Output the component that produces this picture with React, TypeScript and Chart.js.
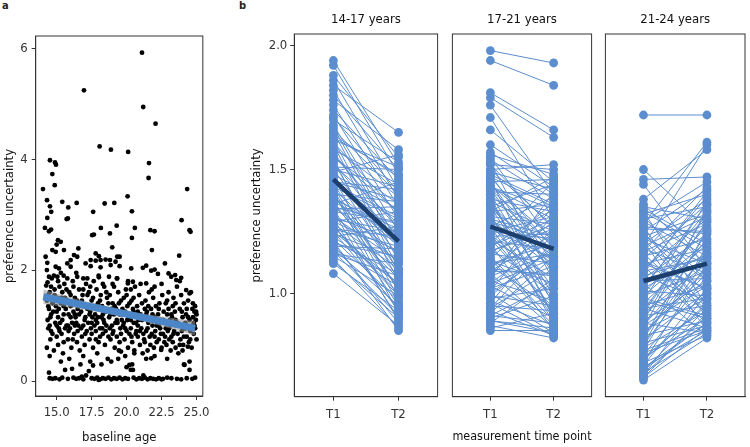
import React, { useEffect, useRef } from "react";
import { Chart, registerables } from "chart.js";
Chart.register(...registerables);

const FONT = "'DejaVu Sans Condensed', 'Liberation Sans Narrow', 'Roboto Condensed', sans-serif";
const TICK_TXT = "#333333";
const TITLE_TXT = "#111111";
const AXIS = "#333333";
const FIT_BLUE = "#4a86c8";
const PAIR_BLUE = "#5b8dcf";
const MEAN_BLUE = "#1c3f6e";

// ---------- panel a ----------
const ageTicks = [15, 17.5, 20, 22.5, 25];
const uncertaintyTicksA = [0, 2, 4, 6];

const scatterUpper: number[][] = [
  [21.1, 5.92], [16.95, 5.24], [21.19, 4.94], [22.07, 4.64], [18.07, 4.23], [18.88, 4.17], [20.11, 4.13],
  [14.52, 3.98], [14.88, 3.94], [14.95, 3.9], [21.6, 3.93], [14.69, 3.73], [21.57, 3.66], [14.86, 3.53],
  [14.02, 3.46], [24.33, 3.46], [20.07, 3.33], [14.31, 3.26], [15.4, 3.23], [16.43, 3.21], [18.43, 3.2],
  [19.12, 3.21], [14.52, 3.15], [15.83, 3.13], [14.61, 3.05], [17.61, 3.05], [20.38, 3.06], [14.33, 2.94],
  [15.71, 2.92], [15.8, 2.93], [23.93, 2.9], [14.16, 2.76], [18.16, 2.76], [19.29, 2.8], [20.59, 2.76],
  [14.6, 2.73], [21.7, 2.72], [24.5, 2.72], [24.57, 2.69], [22.0, 2.7], [20.38, 2.58], [21.81, 2.36],
  [23.76, 2.26], [19.5, 2.24], [22.74, 2.12], [20.33, 2.03], [21.16, 2.04], [21.4, 2.08], [21.76, 1.99],
  [22.0, 2.01], [22.24, 1.93], [23.0, 1.94], [23.47, 1.91], [23.9, 1.86], [19.5, 2.07], [14.45, 2.7],
  [18.81, 2.66], [17.54, 2.63], [17.66, 2.64], [15.09, 2.54], [15.29, 2.51], [15.0, 2.46], [14.69, 2.36],
  [14.93, 2.33], [15.52, 2.36], [18.97, 2.41], [16.55, 2.39], [17.79, 2.3], [18.02, 2.25], [14.21, 2.24],
  [14.33, 2.13], [16.24, 2.27], [16.47, 2.24], [16.0, 2.18], [15.76, 2.12], [17.07, 2.12], [17.43, 2.18],
  [17.79, 2.17], [18.14, 2.18], [18.5, 2.19], [18.81, 2.18], [19.21, 2.15], [19.33, 2.24], [14.93, 2.06],
  [15.16, 2.03], [16.0, 2.06], [17.43, 2.07], [18.14, 2.05], [18.86, 2.09], [14.45, 1.88], [15.05, 1.88],
  [15.76, 1.85], [16.47, 1.88], [17.19, 1.85], [18.02, 1.87], [18.74, 1.88], [19.33, 1.85],
  [20.09, 1.76], [20.45, 1.79], [21.4, 1.76], [22.0, 1.7], [23.19, 1.88], [23.55, 1.82], [24.26, 1.64],
  [24.5, 1.58], [24.74, 1.4], [24.97, 1.25],
];

const scatterMain: number[][] = [
  [14.25, 1.72], [14.3, 1.45], [14.35, 1.1], [14.4, 0.95], [14.45, 1.3], [14.5, 1.6], [14.55, 0.75], [14.6, 1.2],
  [14.65, 1.85], [14.3, 0.6], [14.5, 1.0], [14.7, 1.4], [14.4, 1.55], [14.6, 0.9], [14.35, 1.78],
  [14.75, 1.25], [14.8, 0.55], [14.85, 1.65], [14.9, 1.05], [14.95, 1.35], [15.0, 0.8], [15.05, 1.5], [15.1, 1.15],
  [15.15, 0.95], [15.2, 1.7], [14.8, 1.9], [15.0, 1.0], [15.1, 0.65], [14.9, 1.45], [15.15, 1.3],
  [15.25, 1.05], [15.3, 1.4], [15.35, 0.85], [15.4, 1.6], [15.45, 0.5], [15.5, 1.2], [15.55, 1.75], [15.6, 0.95],
  [15.65, 1.3], [15.3, 1.95], [15.5, 0.7], [15.6, 1.5], [15.4, 1.1], [15.7, 1.0],
  [15.75, 1.45], [15.8, 0.75], [15.85, 1.2], [15.9, 1.6], [15.95, 0.95], [16.0, 1.35], [16.05, 0.6], [16.1, 1.05],
  [16.15, 1.8], [15.8, 1.0], [16.0, 1.55], [16.2, 1.25], [15.9, 0.4], [16.1, 1.4],
  [16.25, 0.85], [16.3, 1.5], [16.35, 1.15], [16.4, 1.95], [16.45, 0.7], [16.5, 1.3], [16.55, 1.0], [16.6, 1.65],
  [16.65, 0.55], [16.3, 1.2], [16.5, 0.9], [16.7, 1.4], [16.4, 1.05],
  [16.75, 1.25], [16.8, 0.8], [16.85, 1.55], [16.9, 1.0], [16.95, 1.35], [17.0, 0.65], [17.05, 1.15], [17.1, 1.75],
  [17.15, 0.9], [16.8, 1.45], [17.0, 1.1], [17.2, 1.3], [16.9, 0.45],
  [17.25, 1.05], [17.3, 1.6], [17.35, 0.75], [17.4, 1.25], [17.45, 0.95], [17.5, 1.45], [17.55, 1.15], [17.6, 0.6],
  [17.65, 1.8], [17.3, 1.35], [17.5, 0.85], [17.7, 1.0], [17.4, 0.35], [17.6, 1.5],
  [17.75, 1.2], [17.8, 0.9], [17.85, 1.65], [17.9, 1.05], [17.95, 1.4], [18.0, 0.7], [18.05, 1.3], [18.1, 0.95],
  [18.15, 1.55], [17.8, 1.1], [18.0, 1.9], [18.2, 1.15], [17.9, 0.5], [18.1, 0.8],
  [18.25, 1.35], [18.3, 0.85], [18.35, 1.1], [18.4, 1.7], [18.45, 0.65], [18.5, 1.25], [18.55, 1.0], [18.6, 1.5],
  [18.65, 0.4], [18.3, 1.2], [18.5, 0.9], [18.7, 1.4], [18.4, 1.05],
  [18.75, 1.15], [18.8, 1.55], [18.85, 0.75], [18.9, 1.3], [18.95, 1.0], [19.0, 1.75], [19.05, 0.9], [19.1, 1.2],
  [19.15, 0.6], [18.8, 0.95], [19.0, 1.4], [19.2, 1.05], [18.9, 0.35],
  [19.25, 1.3], [19.3, 0.8], [19.35, 1.05], [19.4, 1.6], [19.45, 0.55], [19.5, 1.2], [19.55, 0.95], [19.6, 1.45],
  [19.65, 1.1], [19.3, 1.85], [19.5, 0.7], [19.7, 1.3],
  [19.75, 1.0], [19.8, 1.5], [19.85, 0.75], [19.9, 1.25], [19.95, 1.65], [20.0, 0.9], [20.05, 1.35], [20.1, 0.6],
  [20.15, 1.15], [19.8, 1.05], [20.0, 1.55], [20.2, 0.85], [19.9, 0.45], [20.1, 1.8],
  [20.25, 1.2], [20.3, 0.95], [20.35, 1.45], [20.4, 0.7], [20.45, 1.3], [20.5, 1.05], [20.55, 0.55], [20.6, 1.7],
  [20.65, 0.85], [20.3, 1.1], [20.5, 1.25], [20.7, 0.9], [20.4, 0.3],
  [20.75, 1.35], [20.8, 0.8], [20.85, 1.1], [20.9, 1.55], [20.95, 0.65], [21.0, 1.2], [21.05, 0.95], [21.1, 1.4],
  [21.15, 0.5], [20.8, 1.0], [21.0, 1.75], [21.2, 0.85],
  [21.25, 1.15], [21.3, 0.7], [21.35, 1.45], [21.4, 0.9], [21.45, 1.25], [21.5, 0.55], [21.55, 1.05], [21.6, 1.6],
  [21.65, 0.8], [21.3, 1.3], [21.5, 0.95], [21.7, 1.1], [21.4, 0.4],
  [21.75, 1.3], [21.8, 0.85], [21.85, 1.0], [21.9, 1.5], [21.95, 0.6], [22.0, 1.15], [22.05, 0.9], [22.1, 1.35],
  [22.15, 0.7], [21.8, 1.65], [22.0, 0.45], [22.2, 1.05],
  [22.25, 1.2], [22.3, 0.75], [22.35, 1.4], [22.4, 0.95], [22.45, 1.1], [22.5, 0.6], [22.55, 1.55], [22.6, 0.85],
  [22.65, 1.25], [22.3, 1.0], [22.5, 1.75], [22.7, 0.7],
  [22.75, 1.05], [22.8, 1.4], [22.85, 0.65], [22.9, 1.2], [22.95, 0.9], [23.0, 1.6], [23.05, 0.75], [23.1, 1.1],
  [23.15, 0.55], [22.8, 0.95], [23.0, 1.3], [23.2, 0.8],
  [23.25, 1.15], [23.3, 0.7], [23.35, 1.5], [23.4, 0.9], [23.45, 1.25], [23.5, 0.6], [23.55, 1.0], [23.6, 1.7],
  [23.65, 0.85], [23.3, 1.35], [23.5, 1.1], [23.7, 0.5],
  [23.75, 1.0], [23.8, 1.3], [23.85, 0.75], [23.9, 1.55], [23.95, 0.9], [24.0, 1.15], [24.05, 0.65], [24.1, 1.4],
  [24.15, 0.95], [23.8, 1.8], [24.0, 0.55], [24.2, 1.05],
  [24.25, 1.2], [24.3, 0.8], [24.35, 1.0], [24.4, 1.45], [24.45, 0.7], [24.5, 1.1], [24.55, 0.9], [24.6, 1.6],
  [24.65, 0.6], [24.3, 1.3], [24.5, 0.35], [24.7, 1.0],
  [24.75, 1.15], [24.8, 0.85], [24.85, 1.25], [24.9, 0.95], [24.95, 1.1], [25.0, 1.2], [24.8, 1.05], [25.0, 0.75],
  [24.9, 1.35], [19.6, 0.53], [20.55, 0.5], [21.76, 0.41], [22.47, 0.56], [24.38, 0.62],
];

const scatterDense: number[][] = [
  [14.4, 1.35], [14.55, 1.15], [14.7, 0.85], [14.85, 1.55], [15.0, 1.25], [15.2, 0.9], [15.35, 1.5], [15.5, 1.35],
  [15.7, 1.65], [15.85, 0.9], [16.0, 1.15], [16.15, 0.75], [16.3, 1.0], [16.45, 1.45], [16.6, 1.2], [16.75, 0.95],
  [16.9, 1.65], [17.05, 0.85], [17.2, 1.55], [17.35, 1.2], [17.5, 1.05], [17.65, 1.35], [17.8, 0.75], [17.95, 1.15],
  [18.1, 1.45], [18.25, 0.95], [18.4, 1.3], [18.55, 1.6], [18.7, 0.8], [18.85, 1.2], [19.0, 0.85], [19.15, 1.35],
  [19.3, 1.1], [19.45, 1.4], [19.6, 0.85], [19.75, 1.2], [19.9, 0.95], [20.05, 1.1], [20.2, 1.4], [20.35, 0.8],
  [20.5, 1.5], [20.65, 1.05], [20.8, 1.25], [20.95, 0.9], [21.1, 1.1], [21.25, 0.75], [21.4, 1.2], [21.55, 1.35],
  [21.7, 0.65], [21.85, 1.2], [22.0, 0.8], [22.15, 1.0], [22.3, 1.3], [22.45, 0.85], [22.6, 1.1], [22.75, 0.8],
  [22.9, 1.45], [23.05, 0.95], [23.2, 1.2], [23.35, 0.85], [23.5, 1.4], [23.65, 1.05], [23.8, 0.65], [23.95, 1.25],
  [24.1, 0.8], [24.25, 0.95], [24.4, 1.15], [24.55, 0.75], [24.7, 1.3], [24.85, 1.0], [14.3, 2.0], [14.6, 1.7],
  [15.1, 1.8], [15.5, 1.9], [16.2, 1.7], [16.9, 1.85], [17.4, 1.7], [18.3, 1.75], [19.1, 1.7], [20.3, 1.65],
  [14.5, 0.45], [15.3, 0.35], [16.7, 0.3], [18.2, 0.3], [19.4, 0.4], [22.9, 0.4],
];

const scatterFloor: number[][] = [
  [14.45, 0.15], [14.5, 0.05], [14.7, 0.04], [14.9, 0.05], [15.2, 0.03], [15.4, 0.06], [15.6, 0.2], [15.8, 0.04],
  [16.1, 0.22], [16.2, 0.06], [16.4, 0.04], [16.6, 0.05], [16.9, 0.03], [17.1, 0.1], [17.3, 0.18], [17.5, 0.05],
  [17.7, 0.04], [17.9, 0.06], [18.1, 0.03], [18.3, 0.05], [18.5, 0.04], [18.7, 0.06], [18.9, 0.03], [19.1, 0.05],
  [19.3, 0.04], [19.5, 0.06], [19.7, 0.03], [19.9, 0.05], [20.1, 0.04], [20.3, 0.2], [20.5, 0.06], [20.7, 0.03],
  [20.9, 0.05], [21.1, 0.04], [21.3, 0.06], [21.5, 0.03], [21.7, 0.05], [21.9, 0.04], [22.1, 0.03], [22.3, 0.05],
  [22.6, 0.04], [22.9, 0.06], [23.2, 0.05], [23.6, 0.04], [23.9, 0.03], [24.1, 0.3], [24.3, 0.05], [24.5, 0.2],
  [24.7, 0.04], [24.9, 0.06], [17.6, 0.28], [18.0, 0.02], [20.0, 0.25], [16.8, 0.08], [22.5, 0.03], [21.2, 0.1],
  [20.2, 0.29], [20.45, 0.2], [24.14, 0.29],
];

const fitAge = [14.04, 24.9];
const fitValue = [1.52, 0.95];
const bandAge = [14.04, 16.0, 18.0, 19.5, 21.0, 23.0, 24.9];
const bandUpper = [1.65, 1.507, 1.382, 1.298, 1.225, 1.145, 1.08];
const bandLower = [1.39, 1.327, 1.242, 1.168, 1.085, 0.955, 0.82];

// ---------- panel b ----------
const timePoints = ["T1", "T2"];
const facetTitles = ["14-17 years", "17-21 years", "21-24 years"];
const uncertaintyTicksB = [1.0, 1.5, 2.0];

const youngT1 = [1.94, 1.92, 1.88, 1.86, 1.84, 1.82, 1.80, 1.78, 1.76, 1.74,
  1.72, 1.70, 1.68, 1.66, 1.65, 1.63, 1.61,
  1.60, 1.58, 1.57, 1.55, 1.54, 1.52, 1.51, 1.50,
  1.48, 1.47, 1.46, 1.45, 1.44, 1.43, 1.42, 1.41, 1.40,
  1.39, 1.38, 1.37, 1.36, 1.35, 1.34, 1.33, 1.32, 1.31, 1.30,
  1.29, 1.28, 1.27, 1.26, 1.25, 1.24, 1.23, 1.22, 1.21, 1.20,
  1.19, 1.18, 1.17, 1.16, 1.15, 1.14, 1.12, 1.08,
  1.53, 1.49, 1.43, 1.37, 1.33, 1.29, 1.25, 1.21,
  1.71, 1.67, 1.64, 1.62, 1.59, 1.56, 1.53, 1.50, 1.47, 1.44,
  1.42, 1.39, 1.36, 1.34, 1.31, 1.28, 1.26, 1.23, 1.20, 1.18,
  1.16, 1.13, 1.30, 1.40, 1.55, 1.62, 1.48, 1.35, 1.27, 1.45];
const youngT2 = [1.52, 1.48, 1.55, 1.42, 1.65, 1.38, 1.50, 1.58, 1.35, 1.46,
  1.30, 1.53, 1.25, 1.40, 1.18, 1.48, 1.32,
  1.10, 1.44, 1.22, 1.36, 1.05, 1.28, 1.50, 1.15,
  1.34, 0.98, 1.24, 1.42, 1.08, 1.30, 1.19, 0.92, 1.37,
  1.12, 1.26, 1.02, 1.45, 1.16, 0.95, 1.29, 1.06, 1.21, 0.90,
  1.33, 1.10, 1.00, 1.23, 0.94, 1.14, 1.27, 0.97, 1.08, 0.88,
  1.18, 1.03, 0.91, 1.12, 0.99, 0.86, 0.93, 0.87,
  1.20, 1.56, 1.01, 1.24, 0.89, 1.17, 1.04, 0.85,
  1.41, 1.20, 1.47, 1.13, 1.39, 1.26, 1.09, 1.43, 1.19, 1.31,
  0.96, 1.22, 1.07, 1.35, 1.13, 0.93, 1.19, 1.04, 1.15, 0.95,
  1.07, 0.90, 1.25, 1.02, 1.33, 1.51, 1.09, 1.28, 0.99, 1.38];

const midT1 = [1.98, 1.94, 1.81, 1.79, 1.76, 1.71, 1.66, 1.56, 1.55, 1.54,
  1.53, 1.52, 1.50, 1.49, 1.48, 1.47, 1.46, 1.45, 1.44, 1.43,
  1.42, 1.41, 1.40, 1.39, 1.38, 1.37, 1.36, 1.35, 1.34, 1.33,
  1.32, 1.31, 1.30, 1.29, 1.28, 1.27, 1.26, 1.25, 1.24, 1.23,
  1.22, 1.21, 1.20, 1.19, 1.18, 1.17, 1.16, 1.15, 1.14, 1.13,
  1.12, 1.11, 1.10, 1.09, 1.08, 1.07, 1.06, 1.05, 1.04, 1.03,
  1.02, 1.01, 1.00, 0.99, 0.98, 0.97, 0.96, 0.95, 0.94, 0.93,
  0.92, 0.91, 0.90, 0.89, 0.88, 0.87, 0.86, 0.85, 1.60, 1.50,
  1.45, 1.35, 1.25,
  1.52, 1.47, 1.43, 1.38, 1.33, 1.29, 1.24, 1.19, 1.14, 1.09,
  1.04, 0.99, 0.94, 0.89, 1.48, 1.40, 1.30, 1.20, 1.10, 1.00,
  0.96, 0.91, 1.36, 1.27, 1.17, 1.07, 1.57, 1.42, 1.22, 1.12];
const midT2 = [1.93, 1.84, 1.66, 1.63, 1.40, 1.30, 1.45, 1.48, 1.20, 1.38,
  1.05, 1.50, 1.27, 1.42, 1.12, 1.35, 0.95, 1.46, 1.22, 1.30,
  1.08, 1.40, 1.17, 0.90, 1.33, 1.25, 1.02, 1.44, 1.15, 1.36,
  0.88, 1.28, 1.10, 1.21, 0.98, 1.39, 1.14, 1.31, 0.92, 1.24,
  1.06, 1.18, 0.85, 1.34, 1.00, 1.26, 1.12, 0.89, 1.37, 1.04,
  1.20, 0.94, 1.29, 1.08, 0.86, 1.16, 1.41, 0.97, 1.23, 0.90,
  1.11, 1.32, 0.84, 1.19, 1.02, 0.87, 1.27, 0.93, 1.10, 0.83,
  1.15, 0.88, 0.99, 0.84, 1.06, 0.82, 0.92, 0.85, 1.43, 1.52,
  1.09, 0.96, 1.22,
  1.26, 1.18, 1.34, 0.91, 1.47, 1.13, 1.02, 1.30, 0.87, 1.24,
  1.14, 0.95, 1.21, 0.86, 1.36, 0.99, 1.23, 1.45, 1.07, 1.18,
  0.83, 1.04, 1.11, 0.90, 1.28, 1.35, 1.40, 1.19, 0.94, 1.16];

const oldT1 = [1.72, 1.50, 1.46, 1.44, 1.38, 1.35, 1.34, 1.33, 1.32, 1.31,
  1.30, 1.29, 1.28, 1.27, 1.26, 1.25, 1.24, 1.23, 1.22, 1.21,
  1.20, 1.19, 1.18, 1.17, 1.16, 1.15, 1.14, 1.13, 1.12, 1.11,
  1.10, 1.09, 1.08, 1.07, 1.06, 1.05, 1.04, 1.03, 1.02, 1.01,
  1.00, 0.99, 0.98, 0.97, 0.96, 0.95, 0.94, 0.93, 0.92, 0.91,
  0.90, 0.89, 0.88, 0.87, 0.86, 0.85, 0.84, 0.83, 0.82, 0.81,
  0.80, 0.79, 0.78, 0.77, 0.76, 0.75, 0.74, 0.73, 0.72, 0.71,
  0.70, 0.69, 0.68, 0.67, 0.66, 0.65,
  1.33, 1.29, 1.24, 1.19, 1.14, 1.09, 1.04, 0.99, 0.94, 0.89,
  0.84, 0.79, 0.74, 0.69, 0.67, 0.72, 0.77, 0.82, 0.87, 0.92,
  0.97, 1.02, 1.07, 1.12, 1.17, 1.22, 1.27, 1.36, 0.66, 0.70];
const oldT2 = [1.72, 1.26, 1.47, 1.10, 1.58, 1.30, 1.20, 0.95, 1.40, 1.05,
  1.35, 1.15, 1.61, 0.90, 1.25, 1.42, 1.00, 1.32, 1.12, 0.85,
  1.38, 1.60, 1.08, 1.28, 0.93, 1.22, 1.36, 1.02, 1.18, 0.88,
  1.30, 1.14, 1.41, 0.97, 1.24, 1.06, 0.83, 1.33, 1.16, 0.99,
  1.27, 1.09, 0.91, 1.37, 1.20, 1.03, 0.86, 1.29, 1.12, 0.95,
  1.22, 1.05, 0.84, 1.16, 1.34, 0.98, 1.10, 0.89, 1.25, 1.01,
  0.87, 1.14, 0.93, 1.19, 0.85, 1.07, 0.90, 0.96, 0.83, 1.02,
  0.88, 0.94, 0.84, 0.91, 0.86, 0.82,
  1.18, 1.45, 1.05, 1.31, 0.92, 1.39, 1.13, 1.21, 0.98, 1.33,
  1.08, 1.26, 0.95, 0.88, 1.00, 1.12, 0.86, 1.17, 1.03, 1.29,
  0.90, 1.36, 1.15, 1.02, 1.43, 0.94, 1.24, 1.11, 0.92, 0.85];

const meanT1 = [1.46, 1.27, 1.05];
const meanT2 = [1.21, 1.18, 1.12];

const facetT1 = [youngT1, midT1, oldT1];
const facetT2 = [youngT2, midT2, oldT2];

// ---------- helpers ----------
const framePlugin = {
  id: "frame",
  afterDatasetsDraw(chart: any) {
    const { ctx, chartArea } = chart;
    ctx.save();
    ctx.strokeStyle = AXIS;
    ctx.lineWidth = 1;
    ctx.strokeRect(chartArea.left, chartArea.top, chartArea.right - chartArea.left, chartArea.bottom - chartArea.top);
    ctx.restore();
  },
};

const tickFont = { family: FONT, size: 13 };
const titleFont = { family: FONT, size: 13 };

function panelAConfig(): any {
  return {
    type: "scatter",
    data: {
      datasets: [
        {
          type: "line",
          data: fitAge.map((x, i) => ({ x, y: fitValue[i] })),
          borderColor: FIT_BLUE,
          borderWidth: 7,
          borderCapStyle: "butt",
          pointRadius: 0,
          fill: false,
        },
        {
          type: "line",
          data: bandAge.map((x, i) => ({ x, y: bandUpper[i] })),
          borderColor: "rgba(0,0,0,0)",
          borderWidth: 1,
          pointRadius: 0,
          fill: "+1",
          backgroundColor: "rgba(150,150,150,0.55)",
          tension: 0.3,
        },
        {
          type: "line",
          data: bandAge.map((x, i) => ({ x, y: bandLower[i] })),
          borderColor: "rgba(0,0,0,0)",
          borderWidth: 1,
          pointRadius: 0,
          fill: false,
          tension: 0.3,
        },
        {
          type: "scatter",
          data: [...scatterMain, ...scatterDense, ...scatterFloor, ...scatterUpper].map(([x, y]) => ({ x, y })),
          pointRadius: 2.4,
          pointBorderWidth: 0,
          backgroundColor: "#000000",
          pointBackgroundColor: "#000000",
        },
      ],
    },
    options: {
      responsive: false,
      animation: false,
      devicePixelRatio: 1,
      events: [],
      layout: { padding: { top: 36, right: 12, left: 0, bottom: 0 } },
      plugins: { legend: { display: false }, tooltip: { enabled: false }, title: { display: false } },
      scales: {
        x: {
          type: "linear",
          min: 13.5,
          max: 25.45,
          afterBuildTicks: (s: any) => { s.ticks = ageTicks.map((v) => ({ value: v })); },
          ticks: { callback: (v: any) => Number(v).toFixed(1), font: tickFont, color: TICK_TXT, padding: 5, maxRotation: 0, autoSkip: false },
          grid: { drawOnChartArea: false, drawTicks: true, tickLength: 4, color: AXIS },
          border: { display: true, color: AXIS, width: 1 },
          title: { display: true, text: "baseline age", font: titleFont, color: TITLE_TXT, padding: { top: 0, bottom: 2 } },
          afterFit: (s: any) => { s.height = 51; },
        },
        y: {
          type: "linear",
          min: -0.27,
          max: 6.22,
          afterBuildTicks: (s: any) => { s.ticks = uncertaintyTicksA.map((v) => ({ value: v })); },
          ticks: { callback: (v: any) => String(v), font: tickFont, color: TICK_TXT, padding: 4, autoSkip: false },
          grid: { drawOnChartArea: false, drawTicks: true, tickLength: 4, color: AXIS },
          border: { display: true, color: AXIS, width: 1 },
          title: { display: true, text: "preference uncertainty", font: titleFont, color: TITLE_TXT, padding: { top: 2, bottom: 0 } },
          afterFit: (s: any) => { s.width = 35.7; },
        },
      },
    },
    plugins: [framePlugin],
  };
}

function facetConfig(idx: number): any {
  const t1 = facetT1[idx];
  const t2 = facetT2[idx];
  const first = idx === 0;
  const middle = idx === 1;
  const pairSets = t1.map((v, i) => ({
    data: [{ x: 1, y: v }, { x: 2, y: t2[i] }],
    borderColor: PAIR_BLUE,
    backgroundColor: PAIR_BLUE,
    borderWidth: 1,
    pointRadius: 4.4,
    pointBorderWidth: 0,
    pointBackgroundColor: PAIR_BLUE,
    fill: false,
  }));
  const meanSet = {
    data: [{ x: 1, y: meanT1[idx] }, { x: 2, y: meanT2[idx] }],
    borderColor: MEAN_BLUE,
    borderWidth: 4.5,
    borderCapStyle: "butt",
    pointRadius: 0,
    fill: false,
  };
  const paddings = [
    { left: 0, right: 1, top: 0, bottom: 0 },
    { left: 1, right: 1, top: 0, bottom: 0 },
    { left: 1, right: 6, top: 0, bottom: 0 },
  ];
  return {
    type: "line",
    data: { datasets: [meanSet, ...pairSets] },
    options: {
      responsive: false,
      animation: false,
      devicePixelRatio: 1,
      events: [],
      layout: { padding: paddings[idx] },
      plugins: {
        legend: { display: false },
        tooltip: { enabled: false },
        title: {
          display: true,
          text: facetTitles[idx],
          fullSize: false,
          font: { family: FONT, size: 13, weight: "normal" },
          color: TITLE_TXT,
          padding: { top: 11.5, bottom: 6.9 },
        },
      },
      scales: {
        x: {
          type: "linear",
          min: 0.4,
          max: 2.6,
          afterBuildTicks: (s: any) => { s.ticks = timePoints.map((_, i) => ({ value: i + 1 })); },
          ticks: { callback: (v: any) => timePoints[Math.round(Number(v)) - 1], font: tickFont, color: TICK_TXT, padding: 6, maxRotation: 0, autoSkip: false },
          grid: { drawOnChartArea: false, drawTicks: true, tickLength: 4, color: AXIS },
          border: { display: true, color: AXIS, width: 1 },
          title: { display: middle, text: "measurement time point", font: titleFont, color: TITLE_TXT, padding: { top: 0, bottom: 3 } },
          afterFit: (s: any) => { s.height = 50.3; },
        },
        y: {
          display: first,
          type: "linear",
          min: 0.583,
          max: 2.047,
          afterBuildTicks: (s: any) => { s.ticks = uncertaintyTicksB.map((v) => ({ value: v })); },
          ticks: { callback: (v: any) => Number(v).toFixed(1), font: tickFont, color: TICK_TXT, padding: 3, autoSkip: false },
          grid: { drawOnChartArea: false, drawTicks: true, tickLength: 4, color: AXIS },
          border: { display: true, color: AXIS, width: 1 },
          title: { display: true, text: "preference uncertainty", font: titleFont, color: TITLE_TXT, padding: { top: 13, bottom: 0 } },
          afterFit: (s: any) => { s.width = first ? 58.3 : 0; },
        },
      },
    },
    plugins: [framePlugin],
  };
}

export default function App() {
  const refA = useRef<HTMLCanvasElement>(null);
  const ref1 = useRef<HTMLCanvasElement>(null);
  const ref2 = useRef<HTMLCanvasElement>(null);
  const ref3 = useRef<HTMLCanvasElement>(null);

  useEffect(() => {
    const charts: Chart[] = [];
    if (refA.current) charts.push(new Chart(refA.current, panelAConfig()));
    [ref1, ref2, ref3].forEach((r, i) => {
      if (r.current) charts.push(new Chart(r.current, facetConfig(i)));
    });
    return () => charts.forEach((c) => c.destroy());
  }, []);

  const labelStyle: React.CSSProperties = {
    position: "absolute",
    fontFamily: "'DejaVu Sans Condensed', 'Liberation Sans', sans-serif",
    fontWeight: "bold",
    fontSize: 11,
    lineHeight: "12px",
    color: "#222",
  };

  return (
    <div style={{ position: "absolute", left: 0, top: 0, width: 750, height: 447, background: "#ffffff", overflow: "hidden" }}>
      <div style={{ ...labelStyle, left: 2, top: 0 }}>a</div>
      <div style={{ ...labelStyle, left: 239, top: 0 }}>b</div>
      <canvas ref={refA} width={215} height={447} style={{ position: "absolute", left: 0, top: 0 }} />
      <canvas ref={ref1} width={206} height={447} style={{ position: "absolute", left: 236, top: 0 }} />
      <canvas ref={ref2} width={148} height={447} style={{ position: "absolute", left: 448, top: 0 }} />
      <canvas ref={ref3} width={150} height={447} style={{ position: "absolute", left: 601, top: 0 }} />
    </div>
  );
}
